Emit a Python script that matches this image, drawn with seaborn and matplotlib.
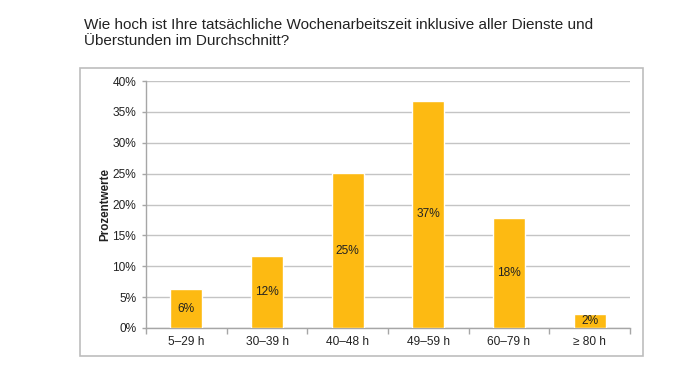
import matplotlib
matplotlib.use("Agg")
import matplotlib.pyplot as plt
import seaborn as sns
import pandas as pd
import numpy as np
from matplotlib.patches import Rectangle
from matplotlib.ticker import FixedLocator, NullFormatter, PercentFormatter

categories = ["5–29 h", "30–39 h", "40–48 h", "49–59 h", "60–79 h", "≥ 80 h"]
values = [6.3, 11.7, 25.1, 36.8, 17.8, 2.2]
labels = ["6%", "12%", "25%", "37%", "18%", "2%"]
title = "Wie hoch ist Ihre tatsächliche Wochenarbeitszeit inklusive aller Dienste und\nÜberstunden im Durchschnitt?"
ylabel = "Prozentwerte"

sns.set_theme(style="white")
plt.rcParams['font.family'] = ['Liberation Sans', 'DejaVu Sans']

df = pd.DataFrame({"cat": categories, "val": values})

fig = plt.figure(figsize=(6.9, 3.7), dpi=100)
ax = fig.add_axes([146/690, 1-328/370, (630-146)/690, (328-81)/370])

sns.barplot(data=df, x="cat", y="val", color="#FDBA12", width=0.4,
            saturation=1, ax=ax, zorder=3)

ax.set_ylim(0, 40)
ax.set_xlim(-0.5, len(categories)-0.5)
ax.yaxis.set_major_locator(FixedLocator(np.arange(0, 41, 5)))
ax.yaxis.set_major_formatter(PercentFormatter(decimals=0))
ax.grid(axis="y", color="#C4C4C4", linewidth=1.0, zorder=0)
ax.set_axisbelow(True)

# x ticks at category boundaries, labels at centers
ax.set_xticks(np.arange(-0.5, len(categories), 1.0))
ax.xaxis.set_major_formatter(NullFormatter())
ax.set_xticks(np.arange(len(categories)), minor=True)
ax.set_xticklabels(categories, minor=True)
ax.tick_params(axis="x", which="major", length=4, width=1, color="#A6A6A6", direction="out", bottom=True)
ax.tick_params(axis="x", which="minor", length=0, labelsize=8.6, labelcolor="#222222", pad=6)
ax.tick_params(axis="y", which="major", length=3, width=1, color="#A6A6A6", direction="out", left=True,
               labelsize=8.6, labelcolor="#222222", pad=4)

for s in ["top", "right"]:
    ax.spines[s].set_visible(False)
for s in ["left", "bottom"]:
    ax.spines[s].set_color("#A6A6A6")
    ax.spines[s].set_linewidth(1.0)

ax.set_xlabel("")
ax.set_ylabel(ylabel, fontsize=8.4, fontweight="bold", color="#222222", labelpad=1)

for i, (v, lab) in enumerate(zip(values, labels)):
    ax.text(i, v/2, lab, ha="center", va="center", fontsize=8.6, color="#222222", zorder=4)

fig.patches.append(Rectangle((80/690, 1-356/370), (643-80)/690, (356-68)/370,
                             transform=fig.transFigure, fill=False,
                             edgecolor="#BDBDBD", linewidth=1.2, zorder=0))

fig.text(84/690, 1-18/370, title, ha="left", va="top", fontsize=11, color="#222222",
         linespacing=1.2)

fig.savefig("out.png", dpi=100)
